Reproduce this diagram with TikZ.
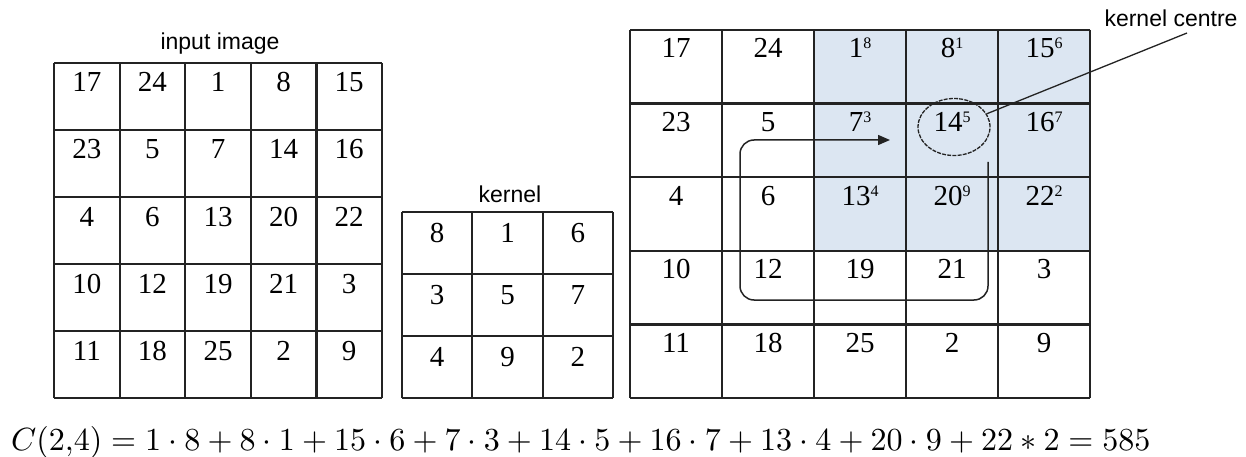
\documentclass[tikz,border=0pt]{standalone}
\usepackage{fontspec}
\setmainfont{Liberation Serif}
\newfontfamily\labelfont{Liberation Sans}
\usepackage{graphicx}
\usetikzlibrary{arrows.meta,shapes.geometric}
\definecolor{shadeblue}{RGB}{220,230,242}
\definecolor{gridc}{RGB}{35,35,35}
\newcommand\supnum[1]{\raisebox{9pt}{\fontsize{16}{16}\selectfont #1}}
\begin{document}
\begin{tikzpicture}[x=1pt,y=-1pt,
  gridline/.style={draw=gridc,line width=2.2pt},
  num/.style={font=\fontsize{29}{31}\selectfont,anchor=base,inner sep=0pt},
  lbl/.style={font=\labelfont\fontsize{23}{25}\selectfont,anchor=base,inner sep=0pt},
  arrowline/.style={draw=gridc,line width=1.5pt,rounded corners=14pt,-{Triangle[length=12pt,width=10pt]}},
  centremark/.style={ellipse,draw=gridc,line width=1.3pt,dash pattern=on 4pt off 1.2pt,minimum width=72pt,minimum height=57pt,inner sep=0pt},
  pointer/.style={draw=gridc,line width=1.3pt}]
\useasboundingbox (0,0) rectangle (1246,457);
\fill[white] (0,0) rectangle (1246,457);

% labels
\node[lbl] (lblin) at (220,50) {input image};
\node[lbl] (lblk) at (510,202) {kernel};
\node[lbl] (lblkc) at (1171,27) {kernel centre};

% ---------- input image ----------
\foreach \i in {0,...,5} {
  \draw[gridline] ({54+65.6*\i},63) -- ({54+65.6*\i},398);
  \draw[gridline] (54,{63+67*\i}) -- (382,{63+67*\i});
}
\foreach \row [count=\r from 0] in {{17,24,1,8,15},{23,5,7,14,16},{4,6,13,20,22},{10,12,19,21,3},{11,18,25,2,9}} {
  \foreach \v [count=\c from 0] in \row {
    \node[num] (in-\r-\c) at ({54+65.6*(\c+0.5)},{63+67*\r+29}) {\v};
  }
}

% ---------- kernel ----------
\foreach \i in {0,...,3} {
  \draw[gridline] ({402+70.33*\i},212) -- ({402+70.33*\i},398);
  \draw[gridline] (402,{212+62*\i}) -- (613,{212+62*\i});
}
\foreach \row [count=\r from 0] in {{8,1,6},{3,5,7},{4,9,2}} {
  \foreach \v [count=\c from 0] in \row {
    \node[num] (k-\r-\c) at ({402+70.33*(\c+0.5)},{212+62*\r+30}) {\v};
  }
}

% ---------- result grid ----------
\fill[shadeblue] (814,30) rectangle (1090,251);
\foreach \i in {0,...,5} {
  \draw[gridline] ({630+92*\i},30) -- ({630+92*\i},398);
  \draw[gridline] (630,{30+73.6*\i}) -- (1090,{30+73.6*\i});
}
\foreach \row [count=\r from 0] in {{17,24,1\supnum{8},8\supnum{1},15\supnum{6}},{23,5,7\supnum{3},14\supnum{5},16\supnum{7}},{4,6,13\supnum{4},20\supnum{9},22\supnum{2}},{10,12,19,21,3},{11,18,25,2,9}} {
  \foreach \v [count=\c from 0] in \row {
    \node[num] (out-\r-\c) at ({630+92*(\c+0.5)},{30+73.6*\r+28}) {\v};
  }
}

% spiral arrow
\coordinate (arrS) at (988,162);
\coordinate (turn) at (740,300);
\coordinate (arrE) at (890,140);
\draw[arrowline] (arrS) |- (turn) |- (arrE);

% kernel centre mark
\node[centremark] (ell) at (954,127) {};
\coordinate (kcend) at (1187,33);
\draw[pointer] (ell) -- (kcend);

% formula
\node[anchor=base west,inner sep=0pt] (formula) at (11,450) {\resizebox{1139pt}{!}{$C(2{,}4)=1\cdot8+8\cdot1+15\cdot6+7\cdot3+14\cdot5+16\cdot7+13\cdot4+20\cdot9+22*2=585$}};
\end{tikzpicture}
\end{document}
